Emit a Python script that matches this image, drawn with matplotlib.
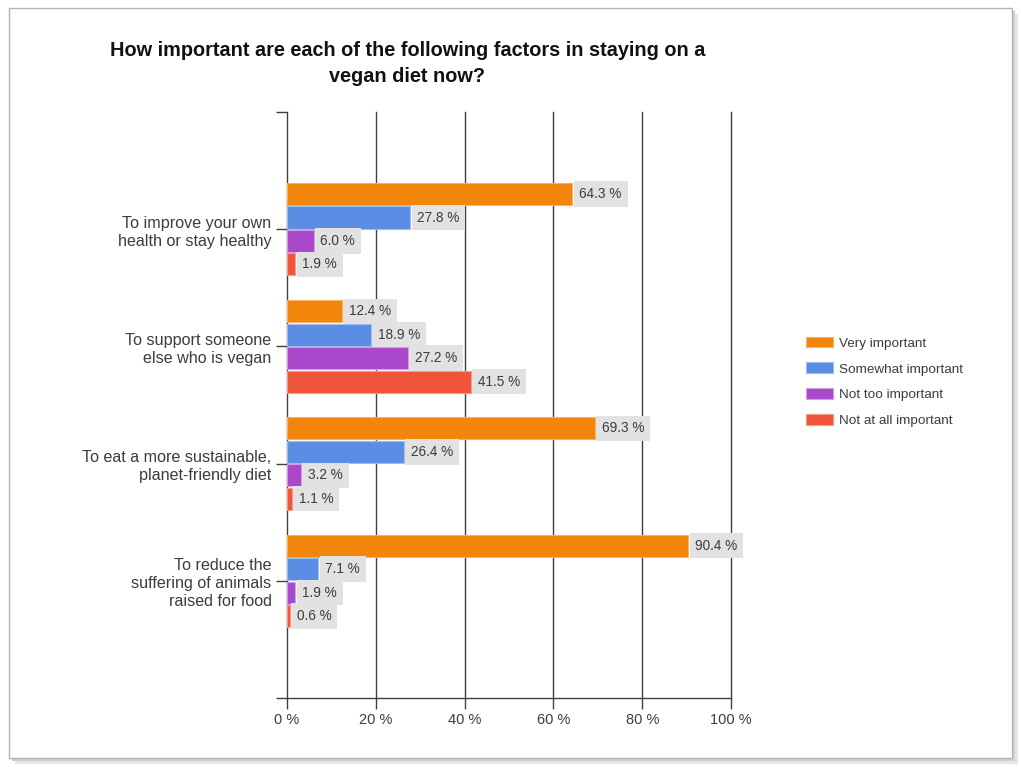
import matplotlib.pyplot as plt
import numpy as np
from matplotlib.patches import Rectangle

title = "How important are each of the following factors in staying on a\nvegan diet now?"
categories = [
    "To improve your own\nhealth or stay healthy",
    "To support someone\nelse who is vegan",
    "To eat a more sustainable,\nplanet-friendly diet",
    "To reduce the\nsuffering of animals\nraised for food",
]
series = ["Very important", "Somewhat important", "Not too important", "Not at all important"]
very = [64.3, 12.4, 69.3, 90.4]
somewhat = [27.8, 18.9, 26.4, 7.1]
not_too = [6.0, 27.2, 3.2, 1.9]
not_at_all = [1.9, 41.5, 1.1, 0.6]
x_ticks = [0, 20, 40, 60, 80, 100]

colors = ["#f2850c", "#5a8de3", "#aa48cc", "#ef5339"]
edges = ["#f9b25a", "#9dbcf0", "#d49be6", "#f79a88"]
text_color = "#3c3c3c"

plt.rcParams["font.family"] = ["Liberation Sans", "DejaVu Sans"]

fig = plt.figure(figsize=(10.21, 7.7), dpi=100)

# frame with a soft shadow
for off, col in [(0.006, "#e6e6e6"), (0.003, "#d0d0d0")]:
    fig.patches.append(Rectangle((0.009 + off, 0.015 - off * 1.3), 0.982, 0.975,
                                 transform=fig.transFigure, facecolor=col,
                                 edgecolor="none", zorder=0))
fig.patches.append(Rectangle((0.009, 0.015), 0.982, 0.975, transform=fig.transFigure,
                             facecolor="white", edgecolor="#b4b4b4", linewidth=1.0, zorder=1))

ax = fig.add_axes([0.281, 0.0935, 0.435, 0.761])
ax.set_zorder(2)
ax.patch.set_alpha(0)

values = [very, somewhat, not_too, not_at_all]
bar_h = 0.2
y_center = np.arange(1, len(categories) + 1)
for i, (name, vals) in enumerate(zip(series, values)):
    ys = y_center - 0.3 + i * bar_h
    ax.barh(ys, vals, height=bar_h * 0.94, color=colors[i], edgecolor=edges[i],
            linewidth=0.8, label=name, zorder=3)
    for y, v in zip(ys, vals):
        ax.annotate(f"{v:.1f} %", xy=(v, y), xytext=(5, 0), textcoords="offset points",
                    ha="left", va="center", fontsize=9.8, color=text_color, zorder=4,
                    bbox=dict(boxstyle="square,pad=0.42", facecolor="#e2e2e2",
                              edgecolor="none"))

ax.set_xlim(0, 100)
ax.set_ylim(5, 0)
ax.set_xticks(x_ticks)
ax.set_xticklabels([f"{t} %" for t in x_ticks], fontsize=10.5, color=text_color)
ax.set_yticks(range(0, len(categories) + 2))
ax.set_yticklabels([""] + categories + [""], fontsize=11.6, color=text_color,
                   linespacing=1.25)
ax.tick_params(axis="both", length=8, width=1, color="#404040", pad=3)
for t in x_ticks[1:]:
    ax.axvline(t, color="#404040", linewidth=1, zorder=1, clip_on=False)
for side in ["top", "right"]:
    ax.spines[side].set_visible(False)
for side in ["left", "bottom"]:
    ax.spines[side].set_color("#404040")
    ax.spines[side].set_linewidth(1)

fig.text(0.399, 0.918, title, ha="center", va="center", fontsize=14.3,
         fontweight="bold", color="#111111", linespacing=1.45)

handles, labels = ax.get_legend_handles_labels()
fig.legend(handles, labels, loc="center left", bbox_to_anchor=(0.778, 0.504),
           frameon=False, fontsize=9.7, handlelength=2.0, handleheight=0.85,
           labelspacing=0.95, handletextpad=0.45, labelcolor=text_color)

fig.savefig("out.png", dpi=100)
